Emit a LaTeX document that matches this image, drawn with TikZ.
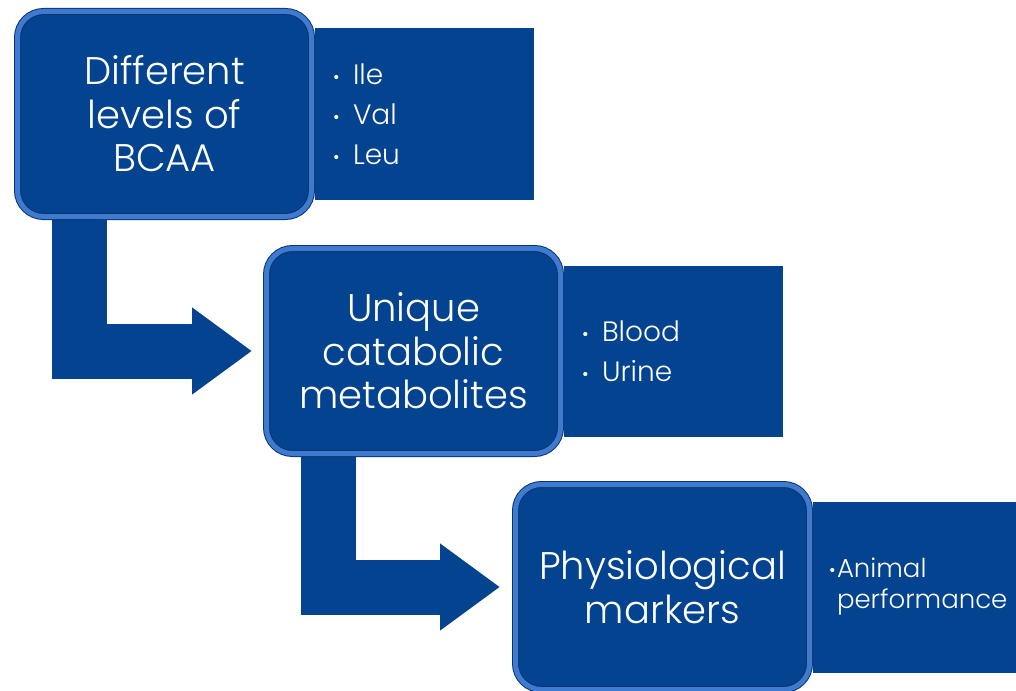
\documentclass[tikz,border=0pt]{standalone}
\usepackage{fontspec}
\setmainfont{Poppins}[UprightFont=* Light]
\usetikzlibrary{positioning,arrows.meta,backgrounds}
\definecolor{stepblue}{RGB}{3,67,143}
\definecolor{bevelblue}{RGB}{62,122,208}
\definecolor{edgeblue}{RGB}{10,52,112}
\tikzset{
  stagebox/.style={rounded corners=26pt, fill=stepblue, draw=edgeblue, double=bevelblue, line width=1pt, double distance=5pt,
    minimum width=294pt, minimum height=205pt, outer sep=3.5pt, inner sep=0pt,
    text=white, align=center, font=\fontsize{38.5}{43.5}\selectfont},
  listbox/.style={fill=stepblue, text width=183pt, inner xsep=18pt, inner ysep=0pt, minimum height=171pt, outer sep=0pt,
    text=white, align=left, font=\fontsize{28}{40}\selectfont},
  bendarrow/.style={draw=stepblue, line width=55pt, line join=miter, -{Triangle[width=83pt,length=60pt]}}
}
\newcommand{\bul}{\makebox[20pt][l]{\raisebox{1pt}{\fontsize{18}{18}\selectfont•}}}
\begin{document}
\begin{tikzpicture}[x=1pt,y=-1pt]
\useasboundingbox (0,0) rectangle (1016,690);
\node[stagebox] (levels) at (164.5,114) {Different\\levels of\\BCAA};
\node[stagebox, below right=25pt and -52pt of levels] (metab) {Unique\\catabolic\\metabolites};
\node[stagebox, below right=24pt and -52pt of metab] (markers) {Physiological\\markers};
\begin{scope}[on background layer]
\node[listbox, right=0pt of levels] (aminos) {\bul Ile\\\bul Val\\\bul Leu};
\node[listbox, right=0pt of metab] (fluids) {\bul Blood\\\bul Urine};
\node[listbox, right=0pt of markers, inner xsep=16pt, font=\fontsize{26}{31}\selectfont] (perf) {\makebox[8pt][l]{\raisebox{1pt}{\fontsize{18}{18}\selectfont•}}Animal\\\hspace*{8pt}performance};
\draw[bendarrow] ([xshift=65.5pt]levels.south west) |- ([xshift=-11pt]metab.west);
\draw[bendarrow] ([xshift=65.5pt]metab.south west) |- ([xshift=-12pt]markers.west);
\end{scope}
\end{tikzpicture}
\end{document}
